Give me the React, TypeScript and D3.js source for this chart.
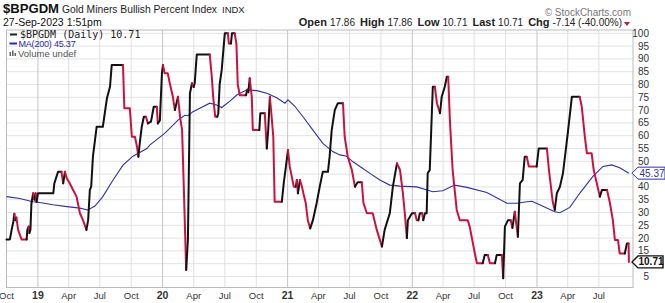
import React from "react";
import * as d3 from "d3";

const W = 665;
const H = 303;

// ---- Data ----
const mainDates = [
  "2018-10-01","2018-10-11","2018-10-16","2018-10-21","2018-10-24","2018-10-27","2018-10-30","2018-11-04","2018-11-14","2018-11-29",
  "2018-12-01","2018-12-05","2018-12-07","2018-12-10","2018-12-13","2018-12-18","2018-12-22","2018-12-25","2018-12-28","2019-01-01",
  "2019-02-15","2019-02-18","2019-03-01","2019-03-11","2019-03-16","2019-03-21","2019-03-26","2019-04-04","2019-04-14","2019-04-24",
  "2019-05-04","2019-05-13","2019-05-23","2019-05-28","2019-06-02","2019-06-06","2019-06-11","2019-06-22","2019-07-10","2019-07-22",
  "2019-07-31","2019-08-05","2019-09-07","2019-09-11","2019-09-27","2019-10-03","2019-10-12","2019-10-18","2019-10-22","2019-10-26",
  "2019-11-01","2019-11-07","2019-11-13","2019-11-19","2019-11-28","2019-12-06","2019-12-15","2019-12-18","2019-12-24","2019-12-30",
  "2020-01-02","2020-01-07","2020-01-16","2020-01-22","2020-01-31","2020-02-06","2020-02-15","2020-02-21","2020-02-27","2020-03-03",
  "2020-03-10","2020-03-15","2020-03-21","2020-03-27","2020-04-01","2020-04-04","2020-04-10","2020-05-18","2020-05-24","2020-05-28",
  "2020-06-03","2020-06-09","2020-06-12","2020-06-16","2020-06-22","2020-07-01","2020-07-10","2020-07-13","2020-07-19","2020-07-22",
  "2020-07-30","2020-08-04","2020-08-08","2020-08-14","2020-09-01","2020-09-05","2020-09-08","2020-09-12","2020-09-18","2020-09-21",
  "2020-10-10","2020-10-13","2020-10-26","2020-11-01","2020-11-05","2020-11-10","2020-11-16","2020-11-20","2020-11-24","2020-12-15",
  "2020-12-21","2020-12-27","2021-01-02","2021-01-07","2021-01-19","2021-01-25","2021-01-28","2021-01-31","2021-02-06","2021-02-12",
  "2021-02-16","2021-02-23","2021-03-01","2021-03-08","2021-03-16","2021-03-27","2021-04-05","2021-04-14","2021-04-29","2021-05-04",
  "2021-05-10","2021-05-19","2021-05-28","2021-06-12","2021-06-17","2021-06-26","2021-07-08","2021-07-17","2021-07-25","2021-08-06",
  "2021-08-11","2021-08-21","2021-09-07","2021-09-19","2021-09-28","2021-10-04","2021-10-12","2021-10-27","2021-11-05","2021-11-17",
  "2021-11-26","2021-12-04","2021-12-10","2021-12-16","2021-12-19","2021-12-31","2022-01-09","2022-01-14","2022-01-19","2022-01-23",
  "2022-01-30","2022-02-02","2022-02-07","2022-02-12","2022-02-15","2022-02-21","2022-03-02","2022-03-08","2022-03-14","2022-03-23",
  "2022-03-28","2022-04-06","2022-04-12","2022-04-16","2022-04-21","2022-04-29","2022-05-11","2022-05-20","2022-06-12","2022-06-18",
  "2022-07-03","2022-07-09","2022-07-26","2022-08-01","2022-08-10","2022-08-16","2022-08-31","2022-09-05","2022-09-20","2022-09-24",
  "2022-09-29","2022-10-08","2022-10-16","2022-10-21","2022-10-28","2022-11-06","2022-11-12","2022-11-20","2022-11-26","2022-12-02",
  "2022-12-08","2022-12-31","2023-01-06","2023-01-30","2023-02-05","2023-02-16","2023-02-22","2023-02-28","2023-03-09","2023-03-18",
  "2023-04-01","2023-04-13","2023-05-06","2023-05-12","2023-05-21","2023-05-27","2023-06-10","2023-06-16","2023-07-04","2023-07-10",
  "2023-07-25","2023-08-02","2023-08-11","2023-08-17","2023-08-26","2023-08-31","2023-09-15","2023-09-21","2023-09-26","2023-09-27",
];
const mainValues = [
  19.5,19.5,23.2,26.4,29.5,27,28,23.2,19.5,19.5,
  23.2,24.5,22,23.2,33.6,37.5,35,37.5,34.2,37.5,
  37.5,41.4,45.9,45.9,41.4,45.9,43.5,41.4,38.8,36.2,
  29.7,27,23.2,27,38.8,40.1,51.8,63.5,63.5,74.6,
  79.1,87.6,87.6,70.7,70.7,59.6,59.6,55.7,51.8,57,
  63.5,67.4,67.4,64.8,65.5,71.3,71.3,64.8,66,84.4,
  87.6,84.4,84.4,80.5,75.2,70,75.2,67.4,62.2,40,
  7.6,19.3,76.6,80.5,79,80.5,91.7,91.7,83,75.2,
  67.4,67.4,68.8,80,85.7,100,100,96,96,100,
  100,96,80,75.8,75.8,78,77,82.4,75.2,62.2,
  62.2,68.8,68.8,55,62,75.2,66,59.6,34.2,34.2,
  42,48,54.4,48,40.1,40.1,42.7,37.5,42.7,40,
  37.5,33.7,27,23.8,27,33.7,40.1,45.9,45.9,52,
  62.2,70,72.7,72.7,59.6,51.8,46.6,40.1,41.8,41.8,
  33.6,29.7,29.7,23.2,19.3,16.7,23.2,29.7,40,49.2,
  46.6,38,29.7,20,27,29.7,29.7,27,27,29.7,
  29.7,27,29.7,29.7,45.3,46.6,79.1,79.1,72.7,68.8,
  75.2,79.1,83,83,66,46.6,31,27,27,24.5,
  14,10.2,10.2,13.4,13.4,10.2,10.2,13.4,13.4,4.3,
  24.5,27,27,24,30.3,20.5,41.4,42.7,51.8,51.8,
  48,48,55,55,46.6,34.2,31,37.5,40,45.3,
  60.9,75.2,75.2,71.3,59.6,53.1,53.1,46.6,36.2,38.8,
  38.8,34,27,19.3,19.3,14,14,17.85,17.85,10.71,
];

const maDates = [
  "2018-10-01","2018-11-09","2018-12-17","2019-01-15","2019-02-14","2019-03-27","2019-05-04","2019-05-27","2019-06-17","2019-07-10",
  "2019-08-08","2019-09-07","2019-10-06","2019-11-16","2019-11-25","2020-01-07","2020-02-15","2020-03-06","2020-03-15","2020-03-30",
  "2020-04-19","2020-05-18","2020-06-07","2020-06-22","2020-07-16","2020-08-05","2020-09-04","2020-10-03","2020-11-01","2020-11-30",
  "2020-12-24","2021-01-02","2021-01-22","2021-02-15","2021-03-16","2021-04-14","2021-05-13","2021-06-03","2021-06-23","2021-07-11",
  "2021-08-06","2021-08-30","2021-09-28","2021-10-27","2021-11-26","2022-01-14","2022-03-02","2022-03-31","2022-05-05","2022-06-10",
  "2022-08-07","2022-10-05","2022-11-03","2022-12-02","2022-12-17","2023-01-09","2023-02-22","2023-03-09","2023-04-07","2023-05-06",
  "2023-06-13","2023-07-13","2023-08-08","2023-08-31","2023-09-27",
];
const maValues = [
  36.2,35.5,34.2,33.7,33,32.3,31.7,31,32.5,36.2,
  42.5,48.5,52,55,56.4,60.9,66.1,68,67.8,69.4,
  70.7,72.7,72,71,73.5,75.9,77.9,77.6,76.6,74.8,
  72.7,74,71.5,67.4,62.2,57,53.8,52.5,52,49.8,
  47.5,45.3,42.7,40.7,40.3,40,38.1,38.5,40.7,39.8,
  37.8,33.6,33.6,34.2,34.4,33,30.3,29.9,32,37.5,
  44,48,48.6,47.5,45.37,
];

const yTickValues = [5,10,15,20,25,30,35,40,45,50,55,60,65,70,75,80,85,90,95,100];
const xTickDates = [
  "2018-10-01","2019-01-01","2019-04-01","2019-07-01","2019-10-01","2020-01-01","2020-04-01","2020-07-01","2020-10-01",
  "2021-01-01","2021-04-01","2021-07-01","2021-10-01","2022-01-01","2022-04-01","2022-07-01","2022-10-01","2023-01-01",
  "2023-04-01","2023-07-01",
];
const xTickLabels = ["Oct","19","Apr","Jul","Oct","20","Apr","Jul","Oct","21","Apr","Jul","Oct","22","Apr","Jul","Oct","23","Apr","Jul"];

const symbol = "$BPGDM";
const title = "Gold Miners Bullish Percent Index";
const exchange = "INDX";
const timestamp = "27-Sep-2023 1:51pm";
const quoteLabels = ["Open", "High", "Low", "Last", "Chg"];
const quoteValues = ["17.86", "17.86", "10.71", "10.71", "-7.14 (-40.00%)"];
const lastValue = 10.71;
const maLast = 45.37;

const parse = d3.utcParse("%Y-%m-%d");

export default function App() {
  const plotL = 6.5, plotR = 633;
  const x = d3.scaleUtc()
    .domain([parse("2018-10-01") as Date, parse("2023-10-09") as Date])
    .range([plotL, plotR]);
  const y = d3.scaleLinear().domain([5, 100]).range([276.5, 33.3]);
  const plotT = 30, plotB = 287.5;

  const pts = mainDates.map((d, i) => ({ d: parse(d) as Date, v: mainValues[i] }));
  const colors: string[] = [];
  let prev = "#111";
  for (let i = 1; i < pts.length; i++) {
    const dv = pts[i].v - pts[i - 1].v;
    if (dv > 0) prev = "#111";
    else if (dv < 0) prev = "#cc1040";
    colors.push(prev);
  }
  const runs: { color: string; pts: typeof pts }[] = [];
  for (let i = 0; i < colors.length; i++) {
    if (runs.length && runs[runs.length - 1].color === colors[i]) {
      runs[runs.length - 1].pts.push(pts[i + 1]);
    } else {
      runs.push({ color: colors[i], pts: [pts[i], pts[i + 1]] });
    }
  }
  const line = d3.line<{ d: Date; v: number }>().x((p) => x(p.d)).y((p) => y(p.v));
  const maPts = maDates.map((d, i) => ({ d: parse(d) as Date, v: maValues[i] }));

  const font = "'Liberation Sans', Arial, sans-serif";
  const yMa = y(maLast);
  const yLast = y(lastValue);

  const tag = (cy: number, w: number) =>
    `M${plotR - 1},${cy} L${plotR + 5},${cy - 6} L${plotR + 5 + w},${cy - 6} L${plotR + 5 + w},${cy + 6} L${plotR + 5},${cy + 6} Z`;

  // axis labels hidden behind the value tags
  const shownYTicks = yTickValues.filter((v) => Math.abs(y(v) - yMa) > 9 && Math.abs(y(v) - yLast) > 9);

  return (
    <svg width={W} height={H} style={{ position: "absolute", left: 0, top: 0, background: "#fff" }} fontFamily={font}>
      <rect x={0} y={0} width={W} height={H} fill="#fff" />
      {/* header */}
      <text x={3} y={13} fontSize={13} fontWeight="bold" fill="#111" textLength={56} lengthAdjust="spacingAndGlyphs">{symbol}</text>
      <text x={62} y={13} fontSize={10.5} fill="#222" textLength={155} lengthAdjust="spacingAndGlyphs">{title}</text>
      <text x={222} y={13} fontSize={9.5} fill="#222">{exchange}</text>
      <text x={631} y={16} fontSize={10} fill="#777" textAnchor="end">© StockCharts.com</text>
      <text x={3} y={25.5} fontSize={10.5} fill="#111">{timestamp}</text>
      <text x={622} y={25.5} fontSize={10} fill="#222" textAnchor="end">
        {quoteLabels.map((l, i) => (
          <React.Fragment key={l}>
            <tspan fontWeight="bold" fontSize={11} dx={i === 0 ? 0 : 5}>{l}</tspan>
            <tspan dx={3}>{quoteValues[i]}</tspan>
          </React.Fragment>
        ))}
      </text>
      <path d="M624,22 L630,22 L627,26 Z" fill="#cc1040" />

      {/* grid */}
      {yTickValues.map((v) => (
        <line key={"h" + v} x1={plotL} x2={plotR} y1={y(v)} y2={y(v)} stroke="#e3e3e3" strokeWidth={1} />
      ))}
      {xTickDates.map((d, i) => {
        const xx = x(parse(d) as Date);
        const isYear = /^\d+$/.test(xTickLabels[i]);
        return (
          <line key={"v" + d} x1={xx} x2={xx} y1={plotT} y2={plotB} stroke={isYear ? "#c4c4c4" : "#e0e0e0"} strokeWidth={1} />
        );
      })}
      <rect x={plotL} y={plotT} width={plotR - plotL} height={plotB - plotT} fill="none" stroke="#bbb" strokeWidth={1} />

      {/* legend */}
      <line x1={10} x2={17} y1={34.5} y2={34.5} stroke="#222" strokeWidth={2} />
      <text x={20} y={38} fontSize={10} fontFamily="'DejaVu Sans Mono', monospace" fill="#222">{`${symbol} (Daily) ${lastValue}`}</text>
      <line x1={9.5} x2={17} y1={43.5} y2={43.5} stroke="#2a2aa8" strokeWidth={2} />
      <text x={18.5} y={47} fontSize={9} fill="#2a2aa8" letterSpacing={-0.2}>{`MA(200) ${maLast}`}</text>
      <rect x={9.5} y={52} width={1.6} height={4} fill="#666" />
      <rect x={12} y={50.5} width={1.6} height={5.5} fill="#666" />
      <rect x={14.5} y={53} width={1.6} height={3} fill="#666" />
      <text x={18} y={56.5} fontSize={9.5} fill="#555">Volume undef</text>

      {/* series */}
      <path d={line(maPts) || ""} fill="none" stroke="#3030a8" strokeWidth={1.1} />
      {runs.map((r, i) => (
        <path key={i} d={line(r.pts) || ""} fill="none" stroke={r.color} strokeWidth={2} strokeLinejoin="round" strokeLinecap="round" />
      ))}

      {/* y axis labels */}
      {shownYTicks.map((v) => (
        <text key={"yl" + v} x={649} y={y(v) + 3.5} fontSize={10} fill="#333" textAnchor="end">{v}</text>
      ))}
      {/* value tags */}
      <path d={tag(yMa, 27)} fill="#fff" stroke="#3030a8" strokeWidth={1} />
      <text x={plotR + 19} y={yMa + 3.5} fontSize={10} fill="#3030a8" textAnchor="middle">{maLast}</text>
      <path d={tag(yLast, 25)} fill="#fff" stroke="#111" strokeWidth={1.4} />
      <text x={plotR + 18} y={yLast + 3.5} fontSize={10} fontWeight="bold" fill="#111" textAnchor="middle">{lastValue}</text>

      {/* x axis labels */}
      {xTickDates.map((d, i) => {
        const isYear = /^\d+$/.test(xTickLabels[i]);
        return (
          <text key={"xl" + d} x={x(parse(d) as Date)} y={299} fontSize={isYear ? 10.5 : 9.5} fontWeight={isYear ? "bold" : "normal"} fill="#333" textAnchor="middle">
            {xTickLabels[i]}
          </text>
        );
      })}
    </svg>
  );
}
